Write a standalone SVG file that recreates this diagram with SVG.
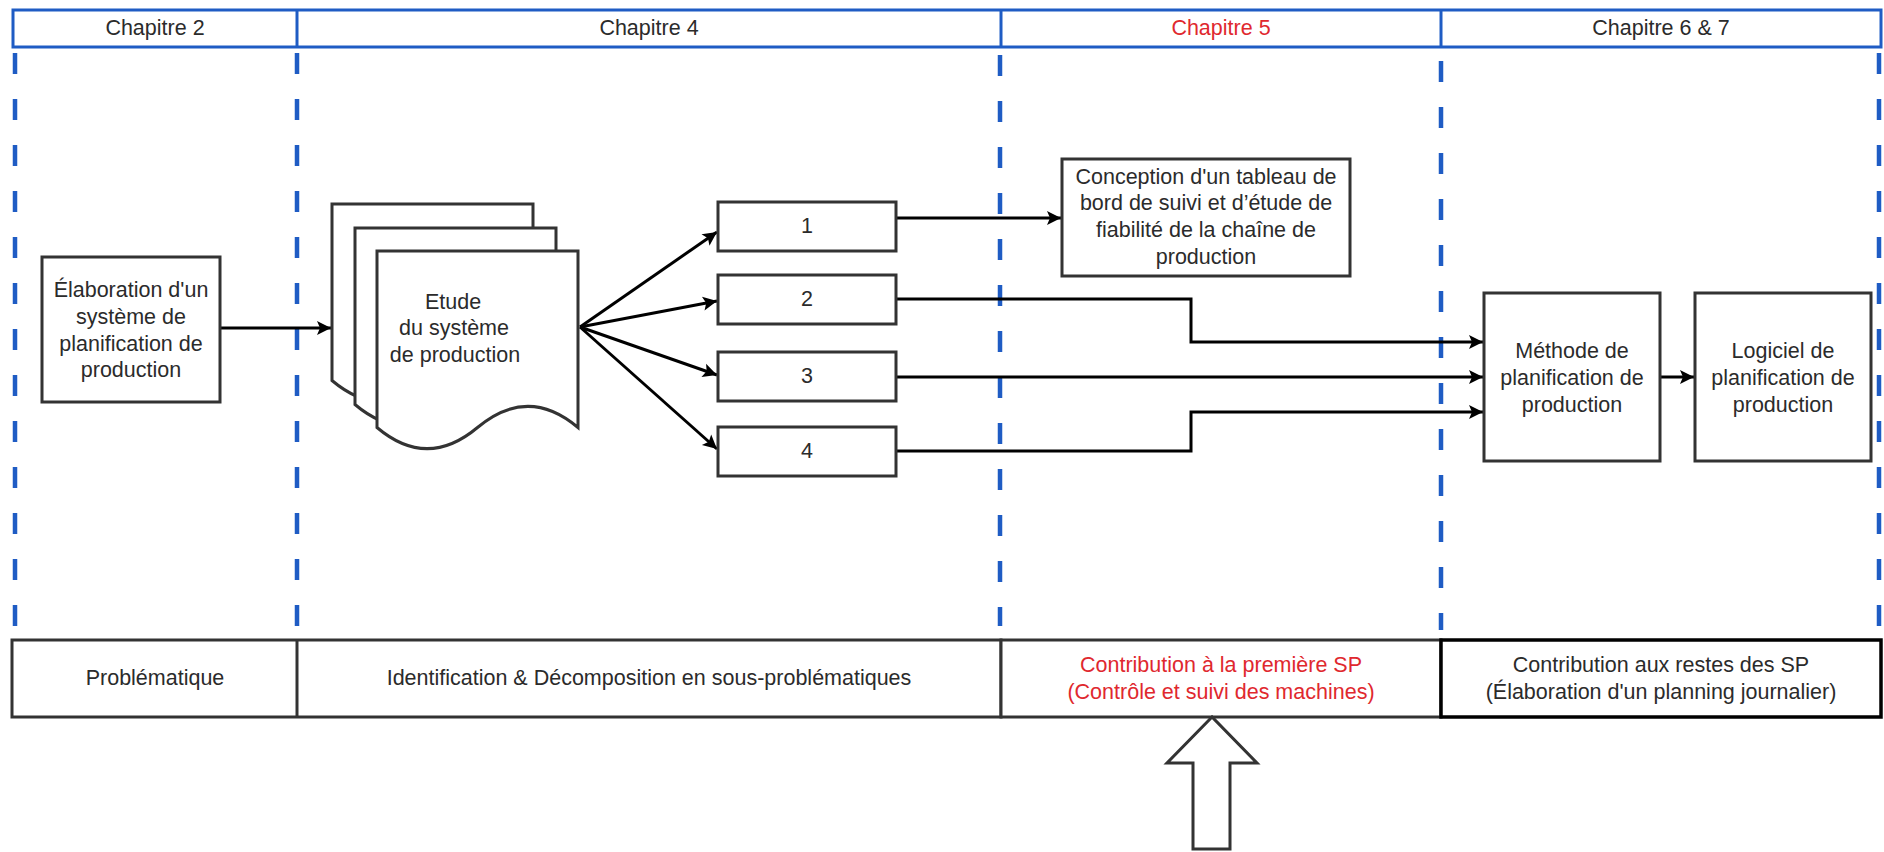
<svg xmlns="http://www.w3.org/2000/svg" width="1884" height="852" viewBox="0 0 1884 852">
<style>
  text { font-family: "Liberation Sans", Arial, sans-serif; font-size: 21.5px; fill: #2b2b2b; text-anchor: middle; dominant-baseline: central; }
  .red { fill: #e0282e; }
  .box { fill: #ffffff; stroke: #333333; stroke-width: 3; }
  .hdr { fill: none; stroke: #1f5cc4; stroke-width: 3; }
  .dash { stroke: #1f5cc4; stroke-width: 4.5; stroke-dasharray: 21 25; fill: none; }
  .conn { fill: none; stroke: #000000; stroke-width: 3; }
  .tbl { fill: #ffffff; stroke: #333333; stroke-width: 3; }
</style>
<defs>
  <marker id="arr" markerUnits="userSpaceOnUse" markerWidth="16" markerHeight="16" viewBox="0 0 16 16" refX="15" refY="8" orient="auto">
    <path d="M1,1 L15,8 L1,15 L4,8 Z" fill="#000000"/>
  </marker>
</defs>
<rect width="1884" height="852" fill="#ffffff"/>

<g id="header">
  <rect class="hdr" x="13" y="10" width="1868" height="37"/>
  <line class="hdr" x1="297" y1="10" x2="297" y2="47"/>
  <line class="hdr" x1="1001" y1="10" x2="1001" y2="47"/>
  <line class="hdr" x1="1441" y1="10" x2="1441" y2="47"/>
  <text x="155" y="28">Chapitre 2</text>
  <text x="649" y="28">Chapitre 4</text>
  <text class="red" x="1221" y="28">Chapitre 5</text>
  <text x="1661" y="28">Chapitre 6 &amp; 7</text>
</g>

<g id="dividers">
  <line class="dash" x1="15" y1="53" x2="15" y2="626"/>
  <line class="dash" x1="297" y1="53" x2="297" y2="626"/>
  <line class="dash" x1="1000" y1="55" x2="1000" y2="626"/>
  <line class="dash" x1="1441" y1="61" x2="1441" y2="630"/>
  <line class="dash" x1="1879" y1="53" x2="1879" y2="626"/>
</g>

<g id="connectors">
  <path class="conn" d="M220,328 H331" marker-end="url(#arr)"/>
  <path class="conn" d="M580,327 L717,232" marker-end="url(#arr)"/>
  <path class="conn" d="M580,327 L717,301" marker-end="url(#arr)"/>
  <path class="conn" d="M580,327 L717,375" marker-end="url(#arr)"/>
  <path class="conn" d="M580,327 L717,449" marker-end="url(#arr)"/>
  <path class="conn" d="M896,218 H1061" marker-end="url(#arr)"/>
  <path class="conn" d="M896,299 H1191 V342 H1483" marker-end="url(#arr)"/>
  <path class="conn" d="M896,377 H1483" marker-end="url(#arr)"/>
  <path class="conn" d="M896,451 H1191 V412 H1483" marker-end="url(#arr)"/>
  <path class="conn" d="M1660,377 H1694" marker-end="url(#arr)"/>
</g>

<g id="node-elaboration">
  <rect class="box" x="42" y="257" width="178" height="145"/>
  <text x="131" y="290">Élaboration d'un</text>
  <text x="131" y="317">système de</text>
  <text x="131" y="344">planification de</text>
  <text x="131" y="370">production</text>
</g>

<g id="node-etude">
  <path class="box" d="M332,204 H533 V380.5 Q483,338.2 432.5,380.5 Q382,422.8 332,380.5 Z"/>
  <path class="box" d="M355,228 H556 V404.5 Q506,362.2 455.5,404.5 Q405,446.8 355,404.5 Z"/>
  <path class="box" d="M377,251 H578 V427.5 Q528,385.2 477.5,427.5 Q427,469.8 377,427.5 Z"/>
  <text x="453" y="302">Etude</text>
  <text x="454" y="328">du système</text>
  <text x="455" y="355">de production</text>
</g>

<g id="node-1">
  <rect class="box" x="718" y="202" width="178" height="49"/>
  <text x="807" y="226">1</text>
</g>
<g id="node-2">
  <rect class="box" x="718" y="275" width="178" height="49"/>
  <text x="807" y="299">2</text>
</g>
<g id="node-3">
  <rect class="box" x="718" y="352" width="178" height="49"/>
  <text x="807" y="376">3</text>
</g>
<g id="node-4">
  <rect class="box" x="718" y="427" width="178" height="49"/>
  <text x="807" y="451">4</text>
</g>

<g id="node-conception">
  <rect class="box" x="1062" y="159" width="288" height="117"/>
  <text x="1206" y="177">Conception d'un tableau de</text>
  <text x="1206" y="203">bord de suivi et d’étude de</text>
  <text x="1206" y="230">fiabilité de la chaîne de</text>
  <text x="1206" y="257">production</text>
</g>

<g id="node-methode">
  <rect class="box" x="1484" y="293" width="176" height="168"/>
  <text x="1572" y="351">Méthode de</text>
  <text x="1572" y="378">planification de</text>
  <text x="1572" y="405">production</text>
</g>

<g id="node-logiciel">
  <rect class="box" x="1695" y="293" width="176" height="168"/>
  <text x="1783" y="351">Logiciel de</text>
  <text x="1783" y="378">planification de</text>
  <text x="1783" y="405">production</text>
</g>

<g id="bottom-table">
  <rect class="tbl" x="12" y="640" width="989" height="77"/>
  <line class="tbl" x1="297" y1="640" x2="297" y2="717"/>
  <rect class="tbl" x="1001" y="640" width="440" height="77"/>
  <rect x="1441" y="640" width="440" height="77" fill="#ffffff" stroke="#000000" stroke-width="3.5"/>
  <text x="155" y="678">Problématique</text>
  <text x="649" y="678">Identification &amp; Décomposition en sous-problématiques</text>
  <text class="red" x="1221" y="665">Contribution à la première SP</text>
  <text class="red" x="1221" y="692">(Contrôle et suivi des machines)</text>
  <text x="1661" y="665">Contribution aux restes des SP</text>
  <text x="1661" y="692">(Élaboration d'un planning journalier)</text>
</g>

<g id="big-arrow">
  <polygon points="1212,717 1167,763 1193,763 1193,849 1230,849 1230,763 1257,763" fill="#ffffff" stroke="#333333" stroke-width="3" stroke-linejoin="miter"/>
</g>
</svg>
